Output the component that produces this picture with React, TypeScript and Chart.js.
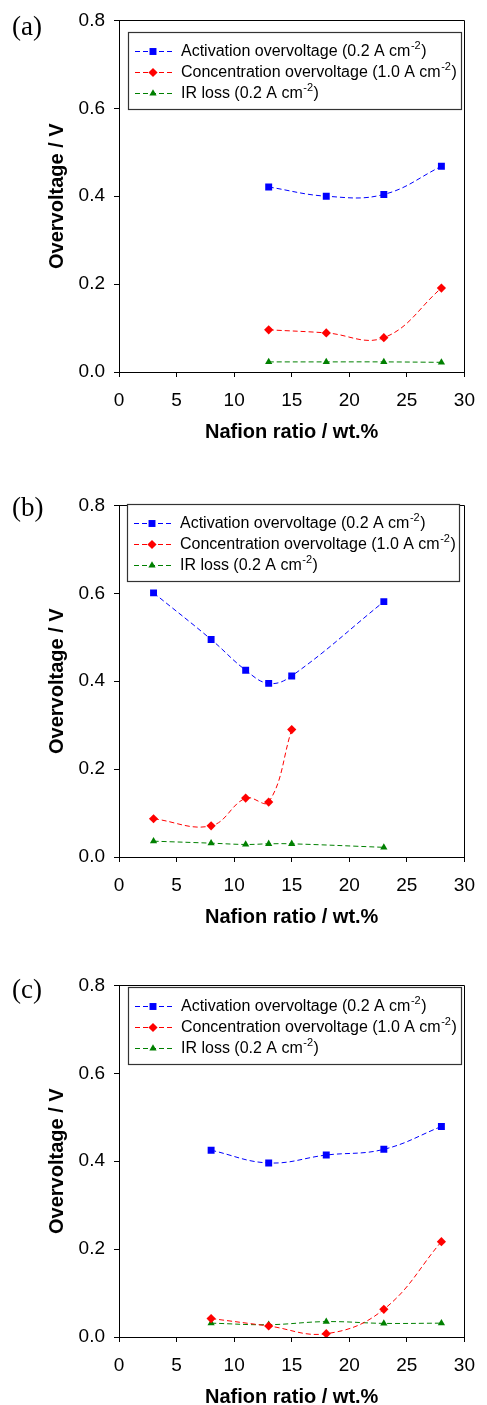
import React, { useEffect, useRef } from 'react';
import { Chart, registerables } from 'chart.js';

Chart.register(...registerables);

// ---- Data ----
const seriesNames = [
  'Activation overvoltage (0.2 A cm',
  'Concentration overvoltage (1.0 A cm',
  'IR loss (0.2 A cm',
];
const unitSup = '-2';
const unitTail = ')';
const panelLabels = ['(a)', '(b)', '(c)'];
const xTitle = 'Nafion ratio / wt.%';
const yTitle = 'Overvoltage / V';

// Panel (a)
const aX = [13, 18, 23, 28];
const aActivation = [0.421, 0.4, 0.404, 0.468];
const aConcentration = [0.096, 0.089, 0.078, 0.191];
const aIR = [0.023, 0.023, 0.023, 0.022];

// Panel (b)
const bX = [3, 8, 11, 13, 15, 23];
const bActivation = [0.601, 0.495, 0.425, 0.395, 0.412, 0.581];
const bConcX = [3, 8, 11, 13, 15];
const bConcentration = [0.087, 0.071, 0.134, 0.125, 0.29];
const bIR = [0.036, 0.0315, 0.0285, 0.03, 0.03, 0.022];

// Panel (c)
const cX = [8, 13, 18, 23, 28];
const cActivation = [0.425, 0.396, 0.414, 0.427, 0.479];
const cConcentration = [0.042, 0.025, 0.0075, 0.063, 0.217];
const cIR = [0.0315, 0.028, 0.035, 0.031, 0.0315];

// ---- Styles ----
const colors = ['#0000ff', '#ff0000', '#008000'];
const pointStyles = ['rect', 'rectRot', 'triangle'];
const pointRadii = [4.9, 4.6, 4.2];
const FONT = '"Liberation Sans", Arial, Helvetica, sans-serif';
const SERIF = '"Liberation Serif", "Times New Roman", serif';

const zip = (xs: number[], ys: number[]) => xs.map((x, i) => ({ x, y: ys[i] }));

const panels = [
  {
    top: 0,
    legend: { left: 128, top: 32, width: 333, height: 77 },
    label: { top: 11 },
    series: [zip(aX, aActivation), zip(aX, aConcentration), zip(aX, aIR)],
  },
  {
    top: 485,
    legend: { left: 127, top: 19, width: 332, height: 77 },
    label: { top: 492 },
    series: [zip(bX, bActivation), zip(bConcX, bConcentration), zip(bX, bIR)],
  },
  {
    top: 965,
    legend: { left: 128, top: 22, width: 333, height: 77 },
    label: { top: 974 },
    series: [zip(cX, cActivation), zip(cX, cConcentration), zip(cX, cIR)],
  },
];

function drawMarker(ctx: CanvasRenderingContext2D, style: string, x: number, y: number, r: number) {
  ctx.beginPath();
  if (style === 'rect') {
    const s = Math.SQRT1_2 * r;
    ctx.rect(x - s, y - s, 2 * s, 2 * s);
  } else if (style === 'rectRot') {
    ctx.moveTo(x - r, y);
    ctx.lineTo(x, y - r);
    ctx.lineTo(x + r, y);
    ctx.lineTo(x, y + r);
    ctx.closePath();
  } else {
    const a = (2 * Math.PI) / 3;
    ctx.moveTo(x, y - r);
    ctx.lineTo(x + Math.sin(a) * r, y - Math.cos(a) * r);
    ctx.lineTo(x + Math.sin(2 * a) * r, y - Math.cos(2 * a) * r);
    ctx.closePath();
  }
  ctx.fill();
}

const framePlugin = {
  id: 'frameBox',
  afterDraw(chart: any) {
    const { ctx, chartArea } = chart;
    ctx.save();
    ctx.strokeStyle = '#000';
    ctx.lineWidth = 1;
    ctx.beginPath();
    ctx.moveTo(Math.round(chartArea.left) + 0.5, Math.round(chartArea.top) + 0.5);
    ctx.lineTo(Math.round(chartArea.right) + 0.5, Math.round(chartArea.top) + 0.5);
    ctx.lineTo(Math.round(chartArea.right) + 0.5, Math.round(chartArea.bottom) + 5);
    ctx.stroke();
    ctx.restore();
  },
};

const boxLegendPlugin = {
  id: 'boxLegend',
  afterDraw(chart: any, _args: any, opts: any) {
    const { ctx } = chart;
    const L = opts.left;
    const T = opts.top;
    ctx.save();
    ctx.fillStyle = '#fff';
    ctx.fillRect(L, T, opts.width, opts.height);
    ctx.strokeStyle = '#333';
    ctx.lineWidth = 1.2;
    ctx.strokeRect(L + 0.5, T + 0.5, opts.width, opts.height);
    chart.data.datasets.forEach((ds: any, i: number) => {
      const y = T + 19 + i * 21;
      ctx.strokeStyle = ds.borderColor;
      ctx.lineWidth = 1;
      ctx.setLineDash([5, 3]);
      ctx.beginPath();
      ctx.moveTo(L + 7, y + 0.5);
      ctx.lineTo(L + 44, y + 0.5);
      ctx.stroke();
      ctx.setLineDash([]);
      ctx.fillStyle = ds.pointBackgroundColor;
      drawMarker(ctx, ds.pointStyle, L + 25, y + 0.5, ds.pointRadius);
      ctx.fillStyle = '#000';
      ctx.textBaseline = 'middle';
      ctx.textAlign = 'left';
      ctx.font = `16px ${FONT}`;
      let tx = L + 53;
      ctx.fillText(ds.label, tx, y + 1);
      tx += ctx.measureText(ds.label).width + 0.5;
      ctx.font = `11px ${FONT}`;
      ctx.fillText(unitSup, tx, y - 5);
      tx += ctx.measureText(unitSup).width + 0.5;
      ctx.font = `16px ${FONT}`;
      ctx.fillText(unitTail, tx, y + 1);
    });
    ctx.restore();
  },
};

function makeConfig(panel: any) {
  return {
    type: 'line',
    data: {
      datasets: panel.series.map((pts: any, i: number) => ({
        label: seriesNames[i],
        data: pts,
        borderColor: colors[i],
        backgroundColor: colors[i],
        pointBackgroundColor: colors[i],
        pointBorderColor: colors[i],
        pointBorderWidth: 0,
        pointStyle: pointStyles[i],
        pointRadius: pointRadii[i],
        borderWidth: 1,
        borderDash: [5, 3],
        tension: 0.4,
        fill: false,
      })),
    },
    options: {
      animation: false,
      responsive: false,
      maintainAspectRatio: false,
      layout: { padding: { left: 0, right: 12, top: 17, bottom: 0 } },
      plugins: {
        legend: { display: false },
        tooltip: { enabled: false },
        boxLegend: panel.legend,
      },
      scales: {
        x: {
          type: 'linear',
          min: 0,
          max: 30,
          afterFit: (s: any) => {
            s.height = 68;
          },
          ticks: {
            stepSize: 5,
            color: '#000',
            padding: 12,
            font: { family: FONT, size: 19 },
            maxRotation: 0,
          },
          grid: { display: true, drawOnChartArea: false, drawTicks: true, tickLength: 5, color: '#000' },
          border: { display: true, color: '#000', width: 1 },
          title: {
            display: true,
            text: xTitle,
            color: '#000',
            font: { family: FONT, size: 20, weight: 'bold', lineHeight: '16px' },
            padding: { top: 0, bottom: 0 },
          },
        },
        y: {
          type: 'linear',
          min: 0,
          max: 0.8,
          afterFit: (s: any) => {
            s.width = 119;
          },
          ticks: {
            stepSize: 0.2,
            color: '#000',
            padding: 9,
            font: { family: FONT, size: 19 },
            callback: (v: any) => Number(v).toFixed(1),
          },
          grid: { display: true, drawOnChartArea: false, drawTicks: true, tickLength: 5, color: '#000' },
          border: { display: true, color: '#000', width: 1 },
          title: {
            display: true,
            text: yTitle,
            color: '#000',
            font: { family: FONT, size: 20, weight: 'bold', lineHeight: '16px' },
            padding: { top: 49, bottom: 0 },
          },
        },
      },
    },
    plugins: [framePlugin, boxLegendPlugin],
  };
}

export default function App() {
  const refs = [useRef<HTMLCanvasElement>(null), useRef<HTMLCanvasElement>(null), useRef<HTMLCanvasElement>(null)];

  useEffect(() => {
    const charts = panels.map((p, i) => new Chart(refs[i].current as HTMLCanvasElement, makeConfig(p) as any));
    return () => charts.forEach((c) => c.destroy());
  }, []);

  return (
    <div
      style={{
        position: 'absolute',
        left: 0,
        top: 0,
        width: 487,
        height: 1405,
        overflow: 'hidden',
        background: '#fff',
      }}
    >
      {panels.map((p, i) => (
        <React.Fragment key={i}>
          <canvas
            ref={refs[i]}
            width={487}
            height={440}
            style={{ position: 'absolute', left: 0, top: p.top, width: 487, height: 440 }}
          />
          <div
            style={{
              position: 'absolute',
              left: 12,
              top: p.label.top,
              fontFamily: SERIF,
              fontSize: 27,
              lineHeight: '30px',
              color: '#000',
            }}
          >
            {panelLabels[i]}
          </div>
        </React.Fragment>
      ))}
    </div>
  );
}
